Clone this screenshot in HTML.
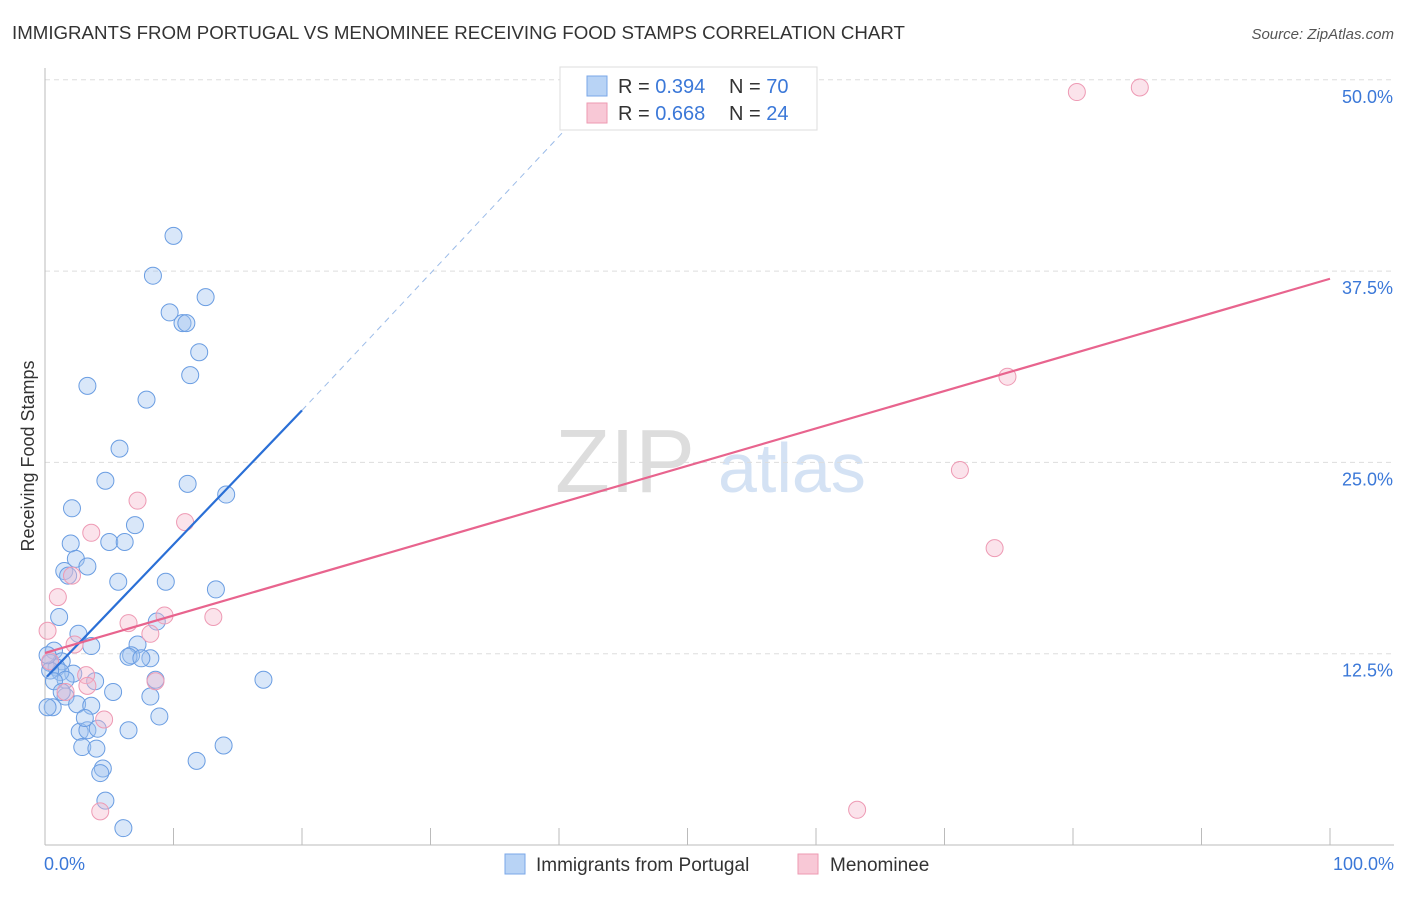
<!DOCTYPE html>
<html><head><meta charset="utf-8"><style>
body{margin:0;background:#fff;font-family:"Liberation Sans",sans-serif;}
svg text{font-family:"Liberation Sans",sans-serif;}
</style></head><body>
<svg id="chart" width="1406" height="892">
<text x="12" y="39" font-size="18.7" fill="#333">IMMIGRANTS FROM PORTUGAL VS MENOMINEE RECEIVING FOOD STAMPS CORRELATION CHART</text>
<text x="1394" y="39" font-size="15" fill="#555" font-style="italic" text-anchor="end">Source: ZipAtlas.com</text>
<text x="34" y="456" font-size="18" fill="#333" text-anchor="middle" transform="rotate(-90 34 456)">Receiving Food Stamps</text>
<text x="555" y="492" font-size="90" fill="#ddd" font-family="Liberation Serif">ZIP</text>
<text x="718" y="492" font-size="70" fill="#d4e2f4">atlas</text>
<g id="grid"></g><g id="pts"></g><g id="lines"></g>
<g>
<rect x="560" y="67" width="257" height="63" fill="#fff" stroke="#ddd"/>
<rect x="587" y="76" width="20" height="20" fill="#b8d3f5" stroke="#7aa7e8"/>
<rect x="587" y="103" width="20" height="20" fill="#f8c8d6" stroke="#ee9ab2"/>
<text x="618" y="93" font-size="20" fill="#333">R = <tspan fill="#3b78d8">0.394</tspan></text>
<text x="729" y="93" font-size="20" fill="#333">N = <tspan fill="#3b78d8">70</tspan></text>
<text x="618" y="120" font-size="20" fill="#333">R = <tspan fill="#3b78d8">0.668</tspan></text>
<text x="729" y="120" font-size="20" fill="#333">N = <tspan fill="#3b78d8">24</tspan></text>
</g>
<g>
<rect x="505" y="854" width="20" height="20" fill="#b8d3f5" stroke="#7aa7e8"/>
<text x="536" y="871" font-size="19" fill="#333">Immigrants from Portugal</text>
<rect x="798" y="854" width="20" height="20" fill="#f8c8d6" stroke="#ee9ab2"/>
<text x="830" y="871" font-size="19" fill="#333">Menominee</text>
</g>
</svg>
<script>
const yTicks=[12.5,25,37.5,50];
const yTickLabels=["12.5%","25.0%","37.5%","50.0%"];
const xLabels=["0.0%","100.0%"];
const blueX=[10,8.4,9.7,12.5,10.7,11,12,11.3,3.3,7.9,5.8,4.7,11.1,14.1,2.1,7,5,6.2,2,2.4,3.3,1.5,1.8,9.4,5.7,13.3,1.1,8.7,2.6,3.6,7.2,6.7,6.5,8.2,7.5,0.7,0.4,1.3,2.2,0.9,1.2,1.6,17,8.6,3.9,8.2,5.3,1.6,0.6,0.2,2.5,3.6,8.9,2.7,3.3,4.1,6.5,2.9,4,13.9,4.5,4.3,11.8,4.7,6.1,0.4,0.2,0.7,1.3,3.1];
const blueY=[39.8,37.2,34.8,35.8,34.1,34.1,32.2,30.7,30,29.1,25.9,23.8,23.6,22.9,22,20.9,19.8,19.8,19.7,18.7,18.2,17.9,17.6,17.2,17.2,16.7,14.9,14.6,13.8,13,13.1,12.4,12.3,12.2,12.2,12.7,11.9,12,11.2,11.6,11.3,10.8,10.8,10.8,10.7,9.7,10,9.7,9,9,9.2,9.1,8.4,7.4,7.5,7.6,7.5,6.4,6.3,6.5,5,4.7,5.5,2.9,1.1,11.4,12.4,10.7,10,8.3];
const pinkX=[80.3,85.2,74.9,71.2,73.9,63.2,7.2,10.9,3.6,2.1,1,0.2,9.3,13.1,6.5,8.2,2.3,3.2,8.6,3.3,4.6,4.3,0.4,1.6];
const pinkY=[49.2,49.5,30.6,24.5,19.4,2.3,22.5,21.1,20.4,17.6,16.2,14,15,14.9,14.5,13.8,13.1,11.1,10.7,10.4,8.2,2.2,12,10];
const blueLine=[[0.15,11.0],[20,28.4],[41,47.2]];
const pinkLine=[[0,12.55],[100,37.0]];
const NS="http://www.w3.org/2000/svg";
const X=v=>45+v*12.85, Y=v=>845-v*15.304;
function mk(t,a,p){const e=document.createElementNS(NS,t);for(const k in a)e.setAttribute(k,a[k]);p.appendChild(e);return e;}
const g=document.getElementById('grid');
yTicks.forEach((t,i)=>{
 const l=mk('line',{x1:45,x2:1394,y1:Y(t),y2:Y(t),stroke:'#ddd','stroke-dasharray':'5,4'},g);
 
 
 const tx=mk('text',{x:1393,y:Y(t)+23,'font-size':18,fill:'#3b78d8','text-anchor':'end'},g);
 tx.textContent=yTickLabels[i];
 
 
});
mk('line',{x1:45,x2:45,y1:68,y2:845,stroke:'#bbb'},g);
mk('line',{x1:45,x2:1394,y1:845,y2:845,stroke:'#bbb'},g);
for(let i=1;i<=10;i++){mk('line',{x1:X(i*10),x2:X(i*10),y1:828,y2:845,stroke:'#bbb'},g);}
[[X(0)-1,'start'],[1394,'end']].forEach((p,i)=>{const t=mk('text',{x:p[0],y:870,'font-size':18,fill:'#3b78d8','text-anchor':p[1]},g);t.textContent=xLabels[i];
 
 });
const pg=document.getElementById('pts');
blueX.forEach((x,i)=>{const c=mk('circle',{cx:X(x),cy:Y(blueY[i]),r:8.5,fill:'rgba(160,196,240,0.4)',stroke:'#6a9de2','stroke-width':1},pg);
 
 });
pinkX.forEach((x,i)=>{const c=mk('circle',{cx:X(x),cy:Y(pinkY[i]),r:8.5,fill:'rgba(246,184,204,0.4)',stroke:'#ee9ab4','stroke-width':1},pg);
 
 });
const lg=document.getElementById('lines');
const b1=mk('line',{x1:X(blueLine[0][0]),y1:Y(blueLine[0][1]),x2:X(blueLine[1][0]),y2:Y(blueLine[1][1]),stroke:'#2a6fd6','stroke-width':2.2},lg);


const b2=mk('line',{x1:X(blueLine[1][0]),y1:Y(blueLine[1][1]),x2:X(blueLine[2][0]),y2:Y(blueLine[2][1]),stroke:'#9bbbe8','stroke-width':1,'stroke-dasharray':'6,5'},lg);


const p1=mk('line',{x1:X(pinkLine[0][0]),y1:Y(pinkLine[0][1]),x2:X(pinkLine[1][0]),y2:Y(pinkLine[1][1]),stroke:'#e8648e','stroke-width':2.2},lg);


</script>
</body></html>
